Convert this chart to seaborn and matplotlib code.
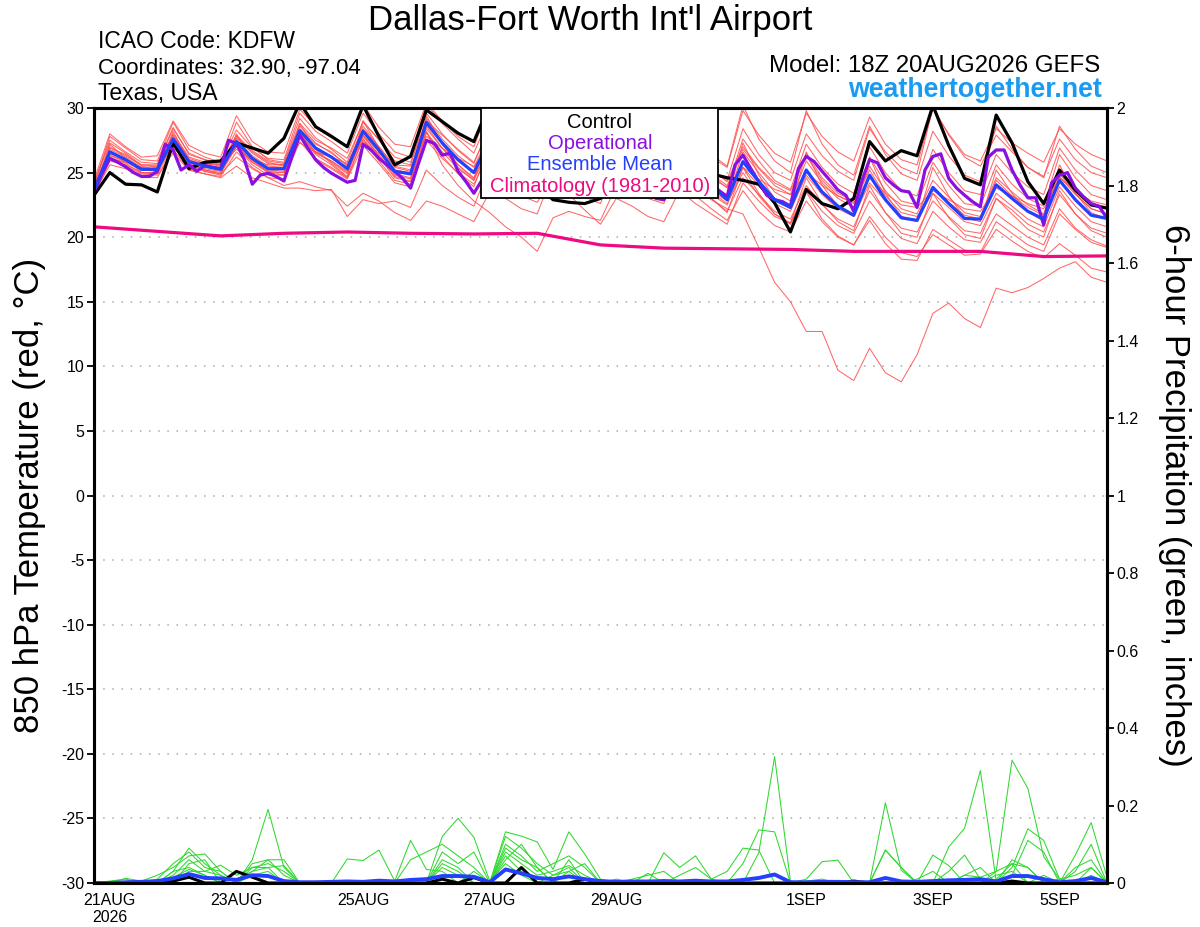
import numpy as np
import pandas as pd
import matplotlib
matplotlib.use("Agg")
import matplotlib.pyplot as plt
from matplotlib.patches import Rectangle
import seaborn as sns

# -----------------------------
# time axes (GEFS run 18Z 20AUG2026, 16 days)
# -----------------------------
times_6h = pd.date_range("2026-08-20 18:00", "2026-09-05 18:00", freq="6h")
times_3h = pd.date_range("2026-08-20 18:00", "2026-09-05 18:00", freq="3h")
times_clim = pd.date_range("2026-08-20 18:00", "2026-09-05 18:00", freq="24h")

tick_dates = pd.to_datetime(["2026-08-21", "2026-08-23", "2026-08-25", "2026-08-27",
                             "2026-08-29", "2026-09-01", "2026-09-03", "2026-09-05"])
tick_labels = ["21AUG\n2026", "23AUG", "25AUG", "27AUG", "29AUG", "1SEP", "3SEP", "5SEP"]

# -----------------------------
# 850 hPa temperature (C)
# -----------------------------
ctrl_t = [
    23.25, 25.0, 24.1, 24.05, 23.5, 27.3, 25.3, 25.8, 25.9, 27.3, 26.9, 26.5, 27.65,
    30.4, 28.55, 27.8, 27.0, 30.2, 27.8, 25.6, 26.25, 29.85, 28.95, 28.05, 27.4, 30.3,
    28.0, 25.8, 24.0, 22.9, 22.7, 22.6, 23.0, 26.5, 25.8, 25.3, 25.0, 26.8, 25.5,
    24.9, 24.6, 24.4, 24.1, 22.65, 20.4, 23.7, 22.6, 22.2, 23.0, 27.4, 25.9, 26.7,
    26.3, 30.2, 27.1, 24.55, 24.05, 29.45, 27.3, 24.3, 22.6, 25.2, 23.65, 22.5, 22.25,
]

mean_t = [
    23.65, 26.6, 26.0, 25.25, 25.25, 27.6, 25.85, 25.5, 25.25, 27.4, 26.1, 25.3, 25.3,
    28.25, 26.9, 26.2, 25.3, 28.2, 26.75, 25.1, 24.9, 28.9, 27.3, 26.0, 25.0, 27.6,
    26.6, 25.6, 25.0, 27.2, 26.2, 25.2, 24.6, 26.8, 25.8, 24.9, 24.3, 26.4, 25.2,
    24.0, 22.9, 25.85, 24.3, 22.9, 22.3, 25.2, 23.5, 22.4, 21.7, 24.8, 22.9, 21.5,
    21.3, 23.85, 22.6, 21.45, 21.4, 24.05, 23.0, 22.0, 21.4, 24.4, 22.9, 21.7, 21.45,
]

# operational run is 3-hourly
oper_t = [
    23.5, 24.9, 26.1, 25.8, 25.45, 25.0, 24.7, 24.7,
    25.1, 27.2, 26.75, 25.2, 25.6, 25.1, 25.55, 25.4,
    25.3, 27.5, 27.25, 26.0, 24.1, 24.8, 24.95, 24.7,
    24.35, 26.2, 27.9, 26.9, 26.0, 25.4, 24.95, 24.6,
    24.25, 24.4, 27.2, 26.75, 26.1, 25.6, 25.1, 24.55,
    23.8, 25.7, 27.5, 27.25, 26.35, 26.5, 25.1, 24.3,
    23.4, 24.4, 27.0, 26.8, 26.0, 25.3, 24.8, 24.3,
    24.0, 24.6, 26.8, 26.5, 25.8, 25.0, 24.4, 24.0,
    23.8, 24.5, 26.5, 26.0, 25.2, 24.5, 23.8, 23.0,
    22.9, 24.0, 26.0, 25.6, 25.0, 24.5, 24.0, 23.6,
    23.15, 25.6, 26.35, 25.3, 24.3, 23.25, 22.9, 22.75,
    22.4, 25.3, 26.25, 25.85, 25.1, 24.4, 23.65, 23.25,
    22.0, 24.3, 26.0, 25.75, 24.6, 24.05, 23.6, 23.5,
    22.3, 25.2, 26.25, 26.45, 24.55, 23.8, 23.25, 22.75,
    22.35, 26.2, 26.75, 26.75, 25.2, 24.05, 23.05, 23.05,
    20.95, 24.2, 24.8, 25.0, 23.8, 23.15, 22.6, 22.4,
    21.45,
]

clim_t = [20.8, 20.45, 20.1, 20.3, 20.4, 20.3, 20.25, 20.3, 19.4,
          19.15, 19.1, 19.05, 18.9, 18.9, 18.9, 18.5, 18.55]

# ensemble members
t_m01 = [24.0, 27.8, 26.9, 26.0, 25.9, 28.9, 26.8, 26.2, 25.8, 28.3, 26.9, 26.1, 26.0,
         29.6, 28.2, 27.4, 26.5, 29.6, 28.0, 26.6, 26.2, 30.3, 28.8, 27.6, 26.5, 29.4,
         28.2, 27.1, 26.4, 28.9, 27.8, 26.9, 26.2, 28.5, 27.5, 26.6, 26.0, 28.3, 27.1,
         26.2, 25.4, 29.8, 27.9, 26.5, 25.8, 29.6, 27.8, 26.6, 25.9, 29.3, 27.2, 26.0,
         25.6, 29.9, 28.0, 26.4, 25.9, 28.4, 27.3, 26.5, 25.8, 28.4, 27.2, 26.4, 25.9]
t_m02 = [23.4, 25.6, 25.3, 24.7, 24.6, 26.8, 25.2, 24.9, 24.7, 26.6, 25.4, 24.6, 24.5,
         27.4, 26.0, 25.3, 24.5, 27.1, 25.7, 24.2, 23.9, 27.5, 26.1, 25.0, 24.1, 26.6,
         25.5, 24.6, 24.0, 25.9, 25.0, 24.1, 23.5, 25.6, 24.6, 23.9, 23.3, 25.2, 24.1,
         23.0, 22.0, 24.6, 23.3, 22.0, 21.4, 24.0, 22.5, 21.4, 20.8, 23.6, 21.9, 20.7,
         20.4, 22.8, 21.6, 20.5, 20.3, 23.0, 22.1, 21.0, 20.4, 23.3, 21.8, 20.7, 20.3]
t_m03 = [23.8, 26.2, 25.7, 25.0, 24.9, 27.0, 25.6, 25.2, 24.9, 26.2, 25.3, 24.6, 24.0,
         24.3, 23.9, 23.6, 22.4, 23.4, 22.8, 21.9, 21.3, 22.8, 22.4, 21.8, 21.2, 23.5,
         23.0, 22.2, 21.8, 25.0, 24.0, 23.1, 22.6, 25.8, 24.6, 23.5, 22.8, 25.6, 24.3,
         23.3, 22.5, 25.4, 24.0, 22.6, 22.0, 24.8, 23.3, 22.2, 21.6, 24.2, 22.8, 21.6,
         21.3, 23.9, 22.7, 21.7, 21.4, 24.4, 23.2, 22.3, 21.7, 24.7, 23.3, 22.2, 21.8]
t_m04 = [23.5, 26.0, 25.5, 24.9, 24.8, 26.5, 25.2, 24.9, 24.6, 25.5, 24.6, 24.2, 23.8,
         23.8, 23.6, 23.7, 21.6, 22.9, 22.6, 22.8, 22.3, 25.2, 24.0, 23.1, 22.4, 25.5,
         24.2, 23.2, 22.7, 24.6, 23.3, 22.1, 21.0, 23.0, 22.4, 21.6, 21.2, 23.6, 22.6,
         21.8, 21.0, 24.2, 22.8, 21.6, 21.1, 23.6, 22.0, 20.9, 20.3, 22.8, 21.2, 19.9,
         19.5, 22.0, 20.8, 19.8, 19.6, 21.8, 20.9, 20.0, 19.4, 22.2, 20.7, 19.8, 19.3]
t_m05 = [23.9, 27.0, 26.3, 25.6, 25.5, 28.0, 26.2, 25.8, 25.6, 27.8, 26.5, 25.7, 25.6,
         28.6, 27.3, 26.5, 25.6, 28.4, 27.0, 25.4, 25.1, 28.2, 25.6, 24.0, 22.8, 21.9,
         20.8, 20.0, 18.9, 21.5, 22.0, 21.6, 21.3, 24.0, 23.5, 23.0, 22.6, 25.8, 24.6,
         23.6, 22.8, 26.6, 25.0, 23.5, 22.8, 25.9, 24.2, 23.0, 22.3, 25.5, 23.6, 22.2,
         21.8, 24.4, 23.1, 21.9, 21.6, 24.6, 23.5, 22.5, 21.8, 24.9, 23.4, 22.2, 21.8]
t_m06 = [23.7, 26.4, 25.8, 25.2, 25.1, 27.3, 25.7, 25.3, 25.1, 27.0, 25.8, 25.1, 25.0,
         28.0, 26.6, 25.9, 25.0, 27.8, 26.4, 24.9, 24.6, 28.4, 26.9, 25.6, 24.6, 27.0,
         26.0, 25.0, 24.5, 26.5, 25.5, 24.5, 23.9, 25.9, 24.9, 24.0, 23.5, 25.0, 23.8,
         22.9, 22.2, 21.8, 19.2, 16.5, 15.0, 12.7, 12.7, 9.7, 8.9, 11.4, 9.5, 8.8,
         10.9, 14.1, 14.9, 13.7, 13.0, 16.05, 15.7, 16.1, 16.8, 17.6, 18.1, 16.9, 16.5]
t_m07 = [24.2, 27.5, 26.6, 25.8, 25.7, 28.5, 26.4, 26.0, 25.7, 28.9, 27.0, 26.0, 25.8,
         29.2, 27.7, 26.8, 25.8, 29.0, 27.5, 25.9, 25.6, 29.6, 28.0, 26.7, 25.7, 28.6,
         27.3, 26.2, 25.6, 28.0, 26.9, 25.9, 25.3, 27.8, 26.6, 25.7, 25.1, 27.6, 26.3,
         25.2, 24.4, 28.4, 26.4, 25.0, 24.4, 28.0, 26.3, 25.1, 24.4, 28.4, 26.6, 25.4,
         24.9, 30.1, 27.9, 26.2, 25.5, 27.9, 26.6, 25.4, 24.7, 27.6, 26.0, 25.0, 24.6]
t_m08 = [23.6, 26.3, 25.9, 25.3, 25.4, 27.9, 26.1, 25.7, 25.5, 27.6, 26.3, 25.5, 25.4,
         28.0, 26.6, 25.8, 24.9, 27.9, 26.3, 24.7, 24.3, 28.1, 26.6, 25.3, 24.4, 27.0,
         25.9, 24.9, 24.3, 26.3, 25.2, 24.2, 23.6, 25.7, 24.6, 23.6, 23.0, 24.6, 23.2,
         22.2, 21.3, 23.6, 22.0, 20.9, 20.4, 22.8, 21.2, 20.0, 19.4, 21.6, 20.0, 18.8,
         18.5, 20.2, 19.4, 18.6, 18.7, 20.6, 19.7, 18.9, 18.4, 19.5, 18.6, 17.6, 17.3]
t_m09 = [23.3, 27.2, 26.1, 25.0, 24.9, 28.2, 25.9, 25.1, 24.8, 28.0, 26.0, 25.0, 24.8,
         28.8, 26.8, 25.7, 24.7, 29.0, 26.9, 24.8, 24.5, 29.4, 27.2, 25.6, 24.5, 28.4,
         26.9, 25.5, 24.8, 27.9, 26.3, 24.9, 24.2, 27.4, 25.8, 24.5, 23.8, 27.2, 25.4,
         24.0, 22.9, 27.3, 24.8, 23.0, 22.2, 26.6, 24.0, 22.4, 21.6, 26.2, 23.4, 21.6,
         21.2, 25.4, 23.2, 21.5, 21.2, 25.2, 23.4, 22.0, 21.2, 25.6, 23.4, 21.9, 21.4]
t_m10 = [24.4, 28.0, 27.0, 26.2, 26.3, 29.0, 27.1, 26.5, 26.2, 29.4, 27.4, 26.6, 26.5,
         29.9, 28.6, 27.9, 27.0, 30.3, 28.5, 27.2, 27.0, 30.4, 29.0, 27.8, 27.0, 30.2,
         28.6, 27.4, 26.8, 29.6, 28.2, 27.2, 26.6, 29.2, 27.9, 26.9, 26.2, 29.0, 27.5,
         26.4, 25.5, 30.2, 27.6, 25.9, 25.0, 29.8, 27.2, 25.6, 24.8, 28.6, 26.4, 24.9,
         24.4, 28.2, 26.3, 24.8, 24.3, 28.6, 26.8, 25.4, 24.6, 28.6, 26.8, 25.5, 25.0]
t_m11 = [23.5, 26.1, 25.8, 25.4, 25.5, 26.9, 25.9, 25.7, 25.6, 26.8, 26.0, 25.6, 25.6,
         27.3, 26.6, 26.2, 25.7, 27.4, 26.5, 25.6, 25.5, 27.8, 26.9, 26.1, 25.5, 26.9,
         26.4, 25.9, 25.5, 26.7, 26.1, 25.5, 25.1, 26.4, 25.8, 25.2, 24.8, 26.0, 25.2,
         24.5, 23.9, 25.4, 24.5, 23.7, 23.3, 25.0, 24.0, 23.2, 22.7, 24.6, 23.4, 22.5,
         22.3, 23.6, 22.9, 22.2, 22.0, 23.8, 23.2, 22.6, 22.2, 24.6, 23.6, 22.8, 22.5]
t_m12 = [23.9, 26.8, 26.2, 25.4, 25.1, 27.2, 25.6, 25.2, 25.0, 27.1, 25.9, 25.2, 25.1,
         27.9, 26.4, 25.6, 24.6, 27.6, 26.2, 24.6, 24.3, 28.6, 26.9, 25.4, 24.4, 27.8,
         26.7, 25.6, 25.0, 27.4, 26.4, 25.5, 24.9, 27.1, 26.2, 25.2, 24.7, 28.2, 26.4,
         25.2, 24.3, 27.0, 25.4, 24.2, 23.6, 26.3, 24.4, 23.2, 22.6, 25.2, 23.2, 21.9,
         21.6, 23.4, 22.3, 21.2, 20.9, 23.4, 22.4, 21.4, 20.8, 23.9, 22.4, 21.2, 20.8]
t_m13 = [23.8, 26.5, 26.0, 25.2, 25.3, 27.5, 25.9, 25.5, 25.2, 27.2, 25.8, 25.0, 25.0,
         27.9, 26.5, 25.9, 25.1, 27.9, 26.6, 25.2, 25.0, 28.7, 27.2, 25.9, 25.0, 27.6,
         26.6, 25.5, 24.9, 27.0, 26.0, 25.0, 24.4, 26.4, 25.3, 24.4, 23.9, 25.8, 24.6,
         23.5, 22.6, 25.0, 23.2, 21.8, 21.0, 23.5, 21.4, 20.1, 19.4, 21.3, 19.5, 18.3,
         18.2, 20.6, 19.8, 19.0, 18.8, 21.2, 20.3, 19.4, 18.9, 21.8, 20.6, 19.6, 19.2]
t_m14 = [23.6, 26.9, 26.4, 25.5, 25.2, 27.8, 26.0, 25.6, 25.4, 27.7, 26.6, 25.8, 25.5,
         28.4, 27.2, 26.6, 25.5, 28.6, 27.0, 25.5, 25.2, 29.2, 27.6, 26.3, 25.4, 28.0,
         26.9, 25.8, 25.2, 27.6, 26.6, 25.6, 25.0, 27.2, 26.1, 25.3, 24.8, 27.0, 25.8,
         24.9, 24.0, 26.8, 25.3, 24.0, 23.3, 26.5, 24.6, 23.4, 22.8, 26.2, 24.2, 22.8,
         22.5, 25.8, 24.0, 22.6, 22.4, 25.6, 24.1, 23.0, 22.4, 26.4, 24.6, 23.3, 22.9]
t_m15 = [24.1, 27.3, 26.5, 25.6, 25.6, 28.4, 26.5, 26.0, 25.6, 27.9, 26.7, 25.9, 25.7,
         28.8, 27.5, 26.9, 26.1, 28.9, 27.6, 26.2, 25.8, 29.0, 27.9, 26.8, 25.8, 28.5,
         27.3, 26.3, 25.7, 27.8, 26.8, 26.0, 25.5, 27.0, 26.2, 25.5, 25.0, 27.0, 25.9,
         24.8, 23.8, 27.6, 25.9, 24.4, 23.7, 27.2, 25.4, 24.1, 23.4, 27.0, 25.0, 23.6,
         23.2, 26.8, 25.0, 23.6, 23.3, 26.4, 25.0, 23.9, 23.3, 26.9, 25.2, 24.0, 23.6]
t_m16 = [23.2, 25.9, 25.6, 25.0, 25.0, 27.4, 25.5, 25.1, 24.9, 27.0, 25.6, 24.8, 24.8,
         27.7, 26.1, 25.4, 24.6, 27.6, 25.9, 24.4, 24.1, 28.1, 26.3, 24.9, 23.9, 27.2,
         26.0, 24.9, 24.2, 26.5, 25.4, 24.3, 23.6, 26.0, 24.8, 23.8, 23.1, 25.6, 24.2,
         23.0, 21.9, 25.4, 23.4, 21.8, 21.1, 24.6, 22.6, 21.2, 20.5, 24.0, 21.9, 20.3,
         20.0, 23.4, 21.5, 20.2, 19.9, 23.0, 21.8, 20.6, 20.0, 23.6, 21.8, 20.5, 20.0]

# -----------------------------
# 6-hour precipitation (inches)
# -----------------------------
ctrl_p = [0, 0, 0, 0, 0, 0.005, 0.015, 0, 0, 0.03, 0.015, 0, 0,
          0, 0, 0, 0, 0, 0, 0, 0, 0, 0.01, 0, 0.014, 0,
          0, 0.04, 0, 0, 0, 0.01, 0, 0, 0, 0, 0.005, 0, 0,
          0, 0, 0, 0, 0, 0, 0, 0, 0, 0.005, 0, 0, 0,
          0, 0, 0, 0, 0, 0, 0.005, 0, 0, 0, 0, 0, 0]
mean_p = [0, 0, 0.002, 0.003, 0.005, 0.012, 0.023, 0.013, 0.012, 0.008, 0.02, 0.018, 0.005,
          0.002, 0.002, 0.003, 0.004, 0.003, 0.006, 0.004, 0.008, 0.01, 0.018, 0.018, 0.016, 0.002,
          0.035, 0.025, 0.013, 0.01, 0.017, 0.01, 0.005, 0.003, 0.004, 0.004, 0.005, 0.004, 0.006,
          0.004, 0.004, 0.008, 0.013, 0.022, 0.002, 0.002, 0.003, 0.003, 0.002, 0.002, 0.013, 0.004,
          0.003, 0.005, 0.007, 0.008, 0.01, 0.004, 0.018, 0.018, 0.01, 0.002, 0.005, 0.013, 0.002]

p_m01 = [0, 0, 0, 0, 0, 0.03, 0.09, 0.05, 0.02, 0, 0.06, 0.19, 0.04,
         0, 0, 0, 0, 0, 0, 0, 0, 0, 0.12, 0.167, 0.118, 0.005,
         0.05, 0.02, 0, 0, 0, 0, 0, 0, 0, 0, 0, 0, 0,
         0, 0, 0, 0.078, 0.326, 0.005, 0, 0, 0, 0, 0, 0, 0,
         0, 0, 0, 0.02, 0.04, 0, 0.04, 0.14, 0.11, 0.01, 0, 0.04, 0]
p_m02 = [0, 0, 0.012, 0.005, 0.02, 0.04, 0.07, 0.075, 0.03, 0, 0.05, 0.06, 0.06,
         0, 0, 0, 0.062, 0.058, 0.085, 0.005, 0.11, 0.035, 0.03, 0, 0, 0,
         0.132, 0.121, 0.106, 0.035, 0.132, 0.075, 0.01, 0, 0, 0, 0, 0, 0,
         0, 0, 0.05, 0.137, 0.132, 0, 0, 0, 0, 0, 0, 0.085, 0.04,
         0, 0, 0, 0, 0, 0.03, 0.317, 0.244, 0.068, 0.01, 0, 0, 0]
p_m03 = [0, 0, 0, 0, 0, 0.02, 0.06, 0.03, 0.046, 0.02, 0.04, 0.05, 0.03,
         0, 0, 0, 0, 0, 0, 0, 0.06, 0.08, 0.1, 0.07, 0.04, 0,
         0.09, 0.06, 0.04, 0, 0.06, 0, 0, 0, 0, 0, 0.078, 0.04, 0.07,
         0.01, 0.03, 0.09, 0.085, 0, 0, 0, 0, 0, 0, 0, 0.207, 0.033,
         0, 0.072, 0.045, 0, 0, 0, 0, 0, 0, 0, 0.072, 0.156, 0.015]
p_m04 = [0, 0, 0, 0, 0.01, 0.05, 0.08, 0.04, 0.03, 0, 0.03, 0.06, 0.02,
         0, 0, 0, 0, 0, 0, 0, 0, 0, 0.08, 0.05, 0.08, 0,
         0.1, 0.07, 0.03, 0.05, 0.07, 0.04, 0, 0, 0, 0, 0, 0, 0,
         0, 0, 0, 0, 0, 0, 0.01, 0.055, 0.059, 0, 0, 0, 0,
         0, 0, 0.093, 0.141, 0.29, 0.005, 0.02, 0.11, 0.08, 0, 0.03, 0.1, 0]
p_m05 = [0, 0, 0, 0, 0, 0, 0.05, 0.06, 0, 0, 0.04, 0.04, 0.045,
         0, 0, 0, 0, 0, 0, 0, 0, 0, 0, 0, 0.03, 0,
         0.12, 0.09, 0.05, 0.02, 0.04, 0, 0, 0, 0.01, 0.02, 0.03, 0, 0,
         0, 0, 0, 0, 0, 0, 0, 0, 0, 0, 0, 0.085, 0.04,
         0, 0, 0.03, 0.072, 0.01, 0, 0.06, 0.04, 0, 0, 0.04, 0.06, 0]
p_m06 = [0, 0, 0, 0, 0, 0.03, 0.04, 0.02, 0, 0.01, 0.03, 0.04, 0,
         0, 0, 0, 0, 0, 0, 0, 0, 0, 0.05, 0.03, 0, 0,
         0.08, 0.05, 0.02, 0.03, 0.045, 0.02, 0, 0, 0, 0, 0, 0.02, 0.04,
         0.01, 0, 0, 0, 0, 0, 0, 0, 0, 0, 0, 0, 0,
         0.01, 0.03, 0, 0, 0, 0.01, 0.05, 0.04, 0, 0.01, 0.02, 0.04, 0]
p_m07 = [0, 0, 0, 0, 0, 0, 0.03, 0.03, 0.02, 0, 0.02, 0, 0,
         0, 0, 0, 0, 0, 0, 0, 0, 0, 0.06, 0.04, 0, 0,
         0.06, 0.1, 0.04, 0, 0.03, 0.05, 0, 0.01, 0, 0.025, 0, 0, 0,
         0, 0, 0, 0, 0, 0, 0, 0, 0, 0, 0, 0, 0,
         0, 0, 0, 0.02, 0.015, 0.03, 0.05, 0, 0, 0, 0, 0, 0]
p_m08 = [0, 0.005, 0.01, 0, 0, 0.015, 0.035, 0.02, 0, 0, 0.02, 0.03, 0,
         0, 0, 0, 0, 0, 0, 0, 0, 0, 0.04, 0.02, 0, 0,
         0.07, 0.03, 0, 0.02, 0.03, 0, 0, 0, 0, 0, 0, 0, 0,
         0, 0, 0, 0, 0, 0, 0.005, 0.01, 0, 0, 0, 0, 0,
         0, 0, 0, 0, 0, 0.02, 0.03, 0, 0.02, 0, 0, 0.02, 0]

temp_members = [t_m01, t_m02, t_m03, t_m04, t_m05, t_m06, t_m07, t_m08,
                t_m09, t_m10, t_m11, t_m12, t_m13, t_m14, t_m15, t_m16]
precip_members = [p_m01, p_m02, p_m03, p_m04, p_m05, p_m06, p_m07, p_m08]

ens_t = pd.concat([pd.DataFrame({"time": times_6h, "value": v, "member": k})
                   for k, v in enumerate(temp_members)], ignore_index=True)
ens_p = pd.concat([pd.DataFrame({"time": times_6h, "value": v, "member": k})
                   for k, v in enumerate(precip_members)], ignore_index=True)

# -----------------------------
# colours
# -----------------------------
RED = "#FF4D4D"
GREEN = "#2FD82F"
PURPLE = "#8A0FE0"
BLUE = "#2440FF"
PINK = "#EE0A80"
SITE = "#1A9BF2"

sns.set_style("white")
plt.rcParams["font.family"] = ["Liberation Sans", "DejaVu Sans"]
plt.rcParams["axes.unicode_minus"] = False
plt.rcParams["text.color"] = "black"
plt.rcParams["xtick.color"] = "black"
plt.rcParams["ytick.color"] = "black"
plt.rcParams["axes.labelcolor"] = "black"

W, H = 1200, 927
fig = plt.figure(figsize=(W / 100, H / 100), dpi=100)
ax = fig.add_axes([94 / W, 44 / H, 1013 / W, 775 / H])

# temperature
sns.lineplot(data=ens_t, x="time", y="value", units="member", estimator=None,
             color=RED, lw=0.75, alpha=0.85, ax=ax, legend=False)
sns.lineplot(x=times_clim, y=clim_t, color=PINK, lw=2.3, ax=ax)
sns.lineplot(x=times_6h, y=ctrl_t, color="black", lw=2.3, ax=ax)
sns.lineplot(x=times_3h, y=oper_t, color=PURPLE, lw=2.3, ax=ax)
sns.lineplot(x=times_6h, y=mean_t, color=BLUE, lw=2.3, ax=ax)

ax.set_xlim(times_6h[0], times_6h[-1])
ax.set_ylim(-30, 30)
ax.set_yticks(range(-30, 31, 5))
ax.set_xticks(tick_dates)
ax.set_xticklabels(tick_labels)
ax.set_xlabel("")
ax.set_ylabel("")
ax.grid(axis="y", color="#A8A8A8", lw=1.1, linestyle=(0, (1, 5)))
ax.grid(axis="x", visible=False)
ax.tick_params(axis="both", direction="out", length=5, width=1.3,
               labelsize=11.5, pad=2, colors="black", labelcolor="black")

# precipitation on the right axis
ax2 = ax.twinx()
sns.lineplot(data=ens_p, x="time", y="value", units="member", estimator=None,
             color=GREEN, lw=0.75, ax=ax2, legend=False)
sns.lineplot(x=times_6h, y=ctrl_p, color="black", lw=2.2, ax=ax2)
sns.lineplot(x=times_6h, y=mean_p, color=BLUE, lw=2.8, ax=ax2)
ax2.set_ylim(0, 2)
p_ticks = np.round(np.arange(0, 2.01, 0.2), 1)
ax2.set_yticks(p_ticks)
ax2.set_yticklabels([f"{v:g}" for v in p_ticks])
ax2.set_ylabel("")
ax2.grid(False)
ax2.tick_params(axis="y", direction="out", length=5, width=1.3,
                labelsize=11.5, pad=2, colors="black", labelcolor="black")

for a in (ax, ax2):
    for s in a.spines.values():
        s.set_color("black")
        s.set_linewidth(2.2)

# legend box (top centre)
ax2.add_patch(Rectangle((0.382, 0.884), 0.234, 0.116, transform=ax2.transAxes,
                        facecolor="white", edgecolor="black", lw=1.3, zorder=20,
                        clip_on=False))
legend_items = [("Control", "black", 0.9742), ("Operational", PURPLE, 0.9471),
                ("Ensemble Mean", BLUE, 0.9200), ("Climatology (1981-2010)", PINK, 0.8916)]
for label, col, yy in legend_items:
    ax2.text(0.4995, yy, label, color=col, fontsize=14.5, ha="center", va="baseline",
             transform=ax2.transAxes, zorder=21)

# header text
fig.text(590 / W, 1 - 30 / H, "Dallas-Fort Worth Int'l Airport", fontsize=25,
         ha="center", va="baseline", color="black")
fig.text(98 / W, 1 - 48 / H, "ICAO Code: KDFW", fontsize=16.5, ha="left", va="baseline",
         color="black")
fig.text(98 / W, 1 - 74 / H, "Coordinates: 32.90, -97.04", fontsize=16, ha="left",
         va="baseline", color="black")
fig.text(98 / W, 1 - 100 / H, "Texas, USA", fontsize=16.5, ha="left", va="baseline",
         color="black")
fig.text(1100 / W, 1 - 72 / H, "Model: 18Z 20AUG2026 GEFS", fontsize=17.3, ha="right",
         va="baseline", color="black")
fig.text(1102 / W, 1 - 97 / H, "weathertogether.net", fontsize=19.3, fontweight="bold",
         color=SITE, ha="right", va="baseline")

# axis titles
fig.text(30 / W, 1 - 495 / H, "850 hPa Temperature (red, °C)", fontsize=25,
         rotation=90, ha="center", va="center", color="black")
fig.text(1175 / W, 1 - 495 / H, "6-hour Precipitation (green, inches)", fontsize=25,
         rotation=270, ha="center", va="center", color="black")

fig.savefig("out.png", dpi=100)
